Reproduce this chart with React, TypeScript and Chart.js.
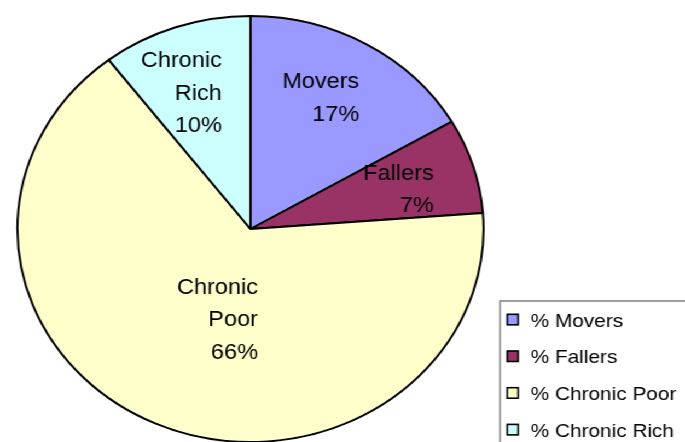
import React, { useEffect, useRef } from 'react';
import { Chart, registerables } from 'chart.js';

Chart.register(...registerables);

// ---- data ----
const categories = ['Movers', 'Fallers', 'Chronic Poor', 'Chronic Rich'];
const legendLabels = ['% Movers', '% Fallers', '% Chronic Poor', '% Chronic Rich'];
const shares = [16.6, 7.2, 65.8, 10.4];
const colors = ['#9999FF', '#993366', '#FFFFCC', '#CCFFFF'];

// ---- layout ----
const W = 626;
const H = 442;
const SX = 685 / W; // the original picture is stretched horizontally
const FONT = '"Liberation Sans", Arial, Helvetica, sans-serif';
// small best-fit nudges of the in-slice labels (layout only)
const LABEL_NUDGE = [
  [-9, -5],
  [-5, 3],
  [9, 2],
  [-16, 2],
];

const sliceLabels = {
  id: 'sliceLabels',
  afterDatasetsDraw(chart: any) {
    const ctx = chart.ctx;
    const meta = chart.getDatasetMeta(0);
    const data = chart.data.datasets[0].data as number[];
    const total = data.reduce((a, b) => a + b, 0);
    const size = 21.5;
    const lh = 32.5;
    ctx.save();
    ctx.font = `${size}px ${FONT}`;
    ctx.fillStyle = '#000';
    ctx.textBaseline = 'alphabetic';
    ctx.textAlign = 'right';
    meta.data.forEach((arc: any, i: number) => {
      const { x, y, startAngle, endAngle, outerRadius } = arc.getProps(
        ['x', 'y', 'startAngle', 'endAngle', 'outerRadius'],
        true
      );
      const share = data[i] / total;
      const mid = (startAngle + endAngle) / 2;
      const f = share > 0.5 ? 0.45 : 0.69;
      const cx = x + Math.cos(mid) * outerRadius * f + LABEL_NUDGE[i][0];
      const cy = y + Math.sin(mid) * outerRadius * f + LABEL_NUDGE[i][1];
      const lines = [...categories[i].split(' '), Math.round(share * 100) + '%'];
      const maxW = Math.max(...lines.map((l) => ctx.measureText(l).width));
      lines.forEach((l, k) => {
        const yy = cy + (k - (lines.length - 1) / 2) * lh + 0.358 * size;
        ctx.fillText(l, cx + maxW / 2, yy);
      });
    });
    ctx.restore();
  },
};

const boxLegend = {
  id: 'boxLegend',
  afterDraw(chart: any) {
    const ctx = chart.ctx;
    const left = 457;
    const top = 301;
    ctx.save();
    ctx.strokeStyle = '#808080';
    ctx.lineWidth = 1.5;
    ctx.beginPath();
    ctx.moveTo(left, H + 5);
    ctx.lineTo(left, top);
    ctx.lineTo(W + 5, top);
    ctx.stroke();
    const size = 19;
    ctx.font = `${size}px ${FONT}`;
    ctx.textAlign = 'left';
    ctx.textBaseline = 'alphabetic';
    legendLabels.forEach((t, i) => {
      const capMid = 319.8 + i * 36.7;
      ctx.fillStyle = colors[i];
      ctx.fillRect(463.5, capMid - 5.5, 10, 10.5);
      ctx.strokeStyle = '#000';
      ctx.lineWidth = 1.6;
      ctx.strokeRect(463.5, capMid - 5.5, 10, 10.5);
      ctx.fillStyle = '#000';
      ctx.fillText(t, 485, capMid + 0.358 * size);
    });
    ctx.restore();
  },
};

export default function App() {
  const ref = useRef<HTMLCanvasElement | null>(null);

  useEffect(() => {
    if (!ref.current) return;
    const chart = new Chart(ref.current, {
      type: 'pie',
      data: {
        labels: legendLabels,
        datasets: [
          {
            data: shares,
            backgroundColor: colors,
            borderColor: '#000',
            borderWidth: 2,
            radius: 213,
          } as any,
        ],
      },
      options: {
        responsive: false,
        animation: false,
        devicePixelRatio: 1,
        layout: { padding: { left: 0, right: W - 2 * 228.9, top: 16, bottom: 0 } },
        plugins: {
          legend: { display: false },
          tooltip: { enabled: false },
        },
      },
      plugins: [sliceLabels, boxLegend],
    });
    return () => chart.destroy();
  }, []);

  return (
    <div
      style={{
        position: 'absolute',
        left: 0,
        top: 0,
        width: W,
        height: H,
        transform: `scaleX(${SX})`,
        transformOrigin: '0 0',
        background: '#fff',
      }}
    >
      <canvas ref={ref} width={W} height={H} style={{ display: 'block', width: W, height: H }} />
    </div>
  );
}
